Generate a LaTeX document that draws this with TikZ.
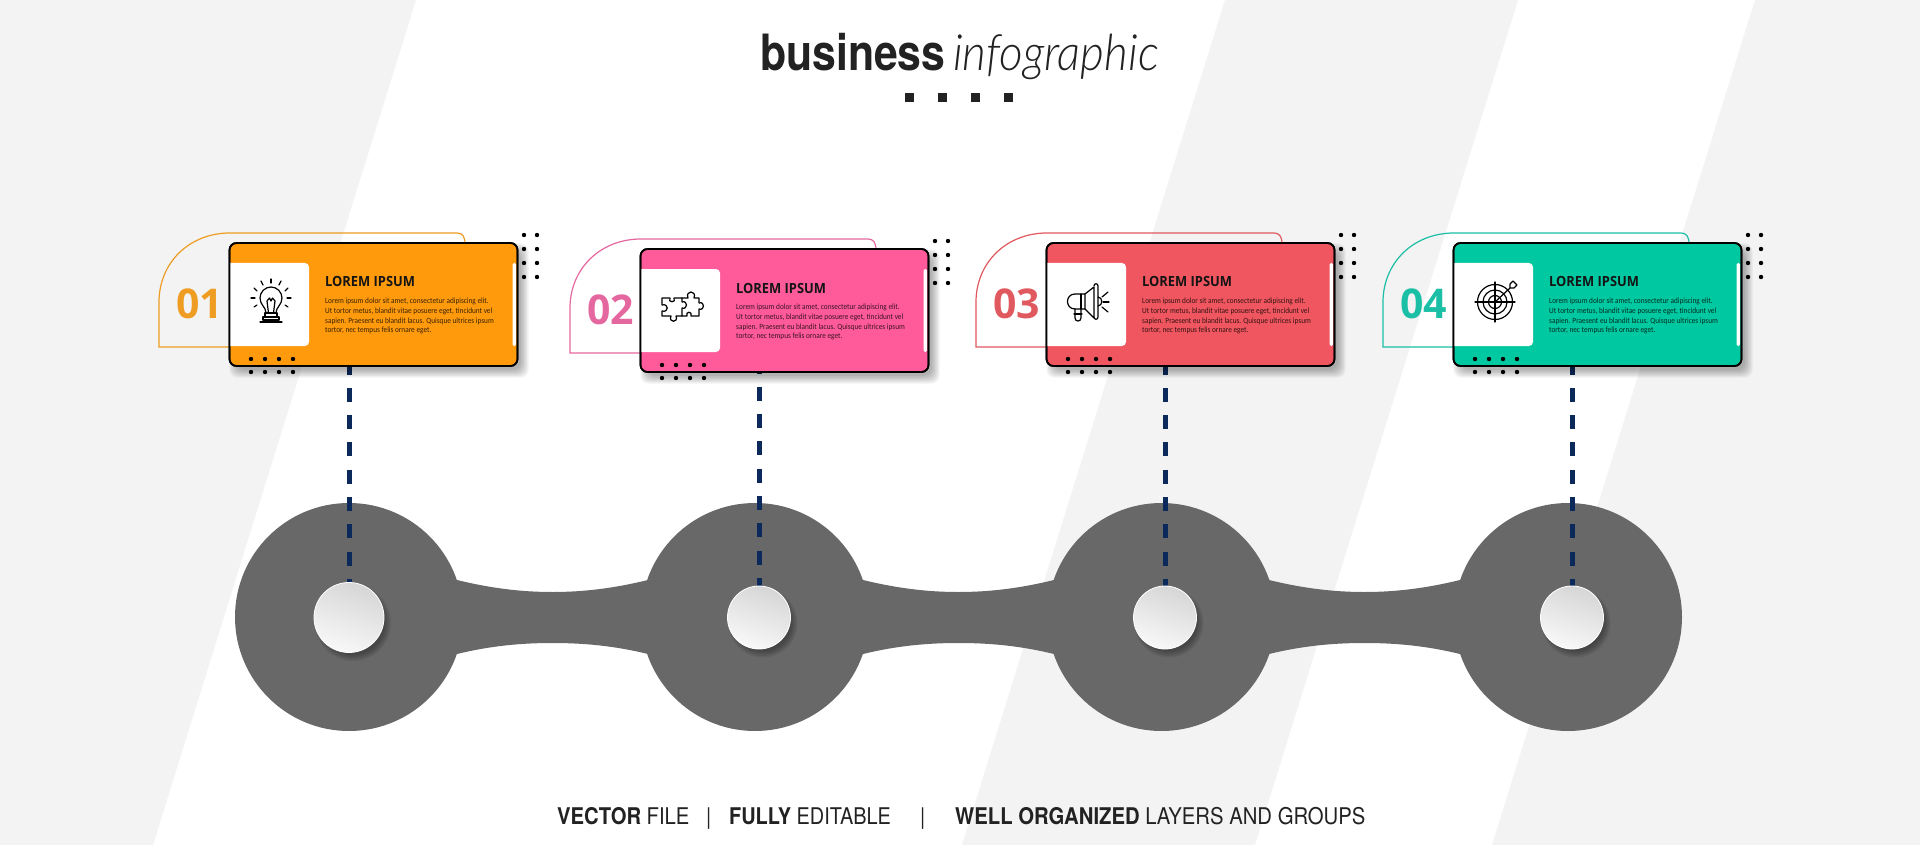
\documentclass[tikz,border=0pt]{standalone}
\usepackage{fontspec}
\setmainfont{Open Sans}
\newfontfamily\heros{TeX Gyre Heros}
\newfontfamily\carl{Carlito}
\newfontfamily\lightit{Lato Light Italic}
\pgfdeclarelayer{back}
\pgfdeclarelayer{mid}
\pgfsetlayers{back,mid,main}
\definecolor{cOrange}{HTML}{FF9A0C}
\definecolor{cPink}{HTML}{FF5A99}
\definecolor{cRed}{HTML}{F0565F}
\definecolor{cGreen}{HTML}{00C8A0}
\definecolor{lOrange}{HTML}{EE9C22}
\definecolor{lPink}{HTML}{E5679F}
\definecolor{lRed}{HTML}{E0595F}
\definecolor{lGreen}{HTML}{1BBFA5}
\definecolor{band}{HTML}{F3F3F3}
\definecolor{disc}{HTML}{686868}
\definecolor{navy}{HTML}{0B2A5B}
\definecolor{ink}{HTML}{222222}
\definecolor{HubTop}{HTML}{D6D6D6}
\definecolor{HubBot}{HTML}{F8F8F8}
\tikzset{
  x=1pt,y=-1pt,
  cardbox/.style={rectangle,rounded corners=7pt,draw=black,line width=1.7pt,minimum width=288pt,minimum height=123pt,anchor=north west,inner sep=0pt,outer sep=0pt},
  diskshape/.style={circle,fill=disc,minimum size=228pt,inner sep=0pt,outer sep=0pt},
  hubshape/.style={circle,draw=white,line width=0.8pt,top color=HubTop,bottom color=HubBot,shading angle=-20,inner sep=0pt,outer sep=0pt},
  connector/.style={draw=navy,line width=5pt,dash pattern=on 14pt off 13.3pt},
  heading/.style={inner sep=0pt,anchor=base west,font=\bfseries\fontsize{14}{14}\selectfont,xscale=.92,transform shape,text=black!92!white},
  bodytext/.style={inner sep=0pt,anchor=north west,align=left,font=\carl\fontsize{8}{9.7}\selectfont,xscale=.91,transform shape,text=black,text opacity=.78},
  numtext/.style={inner sep=0pt,font=\bfseries\fontsize{41}{41}\selectfont},
  iconline/.style={draw=black,line width=1.2pt,line cap=round,line join=round},
  footer/.style={inner sep=0pt,anchor=base west,font=\heros\fontsize{23}{23}\selectfont,transform shape,text=ink},
}

\newcommand{\iconbulb}{%
  \begin{scope}[shift={(0,2)}]
  \draw[iconline] (-5,9) .. controls (-5,3) and (-11,1) .. (-11,-6) .. controls (-11,-12) and (-6,-17) .. (0,-17) .. controls (6,-17) and (11,-12) .. (11,-6) .. controls (11,1) and (5,3) .. (5,9) -- cycle;
  \draw[iconline] (-2.5,9) -- (-4,-3) -- (-1.5,-6) -- (0,-3) -- (1.5,-6) -- (4,-3) -- (2.5,9);
  \draw[iconline] (-6,9) -- (6,9) -- (6,13) -- (-6,13) -- cycle;
  \draw[iconline] (-8,13) -- (8,13) -- (8,16) -- (-8,16) -- cycle;
  \draw[iconline] (-11,18) -- (11,18);
  \foreach \dx/\dy/\ex/\ey in {0/-21/0/-25,-8/-19/-10/-23,8/-19/10/-23,-14/-13/-17/-16,14/-13/17/-16,-16/-6/-20/-6,16/-6/20/-6,-14/1/-17/3,14/1/17/3}
    \draw[iconline] (\dx,\dy) -- (\ex,\ey);
  \end{scope}
}
\newcommand{\iconpuzzle}{%
  \draw[iconline] (-20,-10) -- (-12,-10) .. controls (-15,-5) and (-5,-5) .. (-8,-10) -- (0,-10) -- (0,-6)
    .. controls (6,-8) and (6,2) .. (0,0) -- (0,8) -- (-6,8) .. controls (-3,15) and (-14,15) .. (-11,8) -- (-20,8) -- (-20,3)
    .. controls (-13,5) and (-13,-5) .. (-20,-3) -- cycle;
  \draw[iconline] (0,-10) -- (6,-10) .. controls (3,-18) and (15,-18) .. (12,-10) -- (17,-10) -- (17,-5)
    .. controls (23,-7) and (23,3) .. (17,1) -- (17,8) -- (9,8) .. controls (11,3) and (3,3) .. (5,8) -- (0,8);
}
\newcommand{\iconmega}{%
  \draw[iconline] (-3,-8) -- (-13,-8) .. controls (-23,-8) and (-23,7) .. (-13,7) -- (-3,7) -- cycle;
  \draw[iconline] (-3,-8) -- (6,-15) -- (6,16) -- (-3,7);
  \draw[iconline] (6,-16) .. controls (6,-19) and (10,-19) .. (10,-16) -- (10,15) .. controls (10,18) and (6,18) .. (6,15);
  \draw[iconline] (10,-5) .. controls (15,-5) and (15,4) .. (10,4);
  \draw[iconline] (-13,7) -- (-13,16) .. controls (-13,20) and (-7,20) .. (-7,16) -- (-7,7);
  \draw[iconline] (-14,12) -- (-6,12);
  \draw[iconline] (-7,-8) -- (-7,7);
  \draw[iconline] (14,-5) -- (20,-10);
  \draw[iconline] (15,0) -- (21,0);
  \draw[iconline] (14,5) -- (20,10);
}
\newcommand{\icontarget}{%
  \draw[iconline] (0,0) circle[radius=17.5];
  \draw[iconline] (0,0) circle[radius=12];
  \draw[iconline] (0,0) circle[radius=6.5];
  \draw[iconline] (-20,0) -- (20,0);
  \draw[iconline] (0,-20) -- (0,20);
  \draw[iconline] (0,0) -- (15,-14);
  \fill (0,0) circle[radius=1.5];
  \draw[iconline,fill=white] (15,-14) -- (15,-18) -- (18,-21) -- (20,-19) -- (22,-17) -- (19,-14) -- cycle;
}

% id, x, y, fill, line, number, icon, dash phase
\newcommand{\cardblock}[8]{%
  \begin{scope}[shift={(#2,#3)}]
    \draw[#5,line width=1.2pt] (2,104) -- (-70,104) -- (-70,59) .. controls (-70,20) and (-40,-10) .. (1,-10) -- (228,-10) .. controls (233,-10) and (236,-7) .. (236,1);
    \foreach \e in {0,1.5,3,4.5,6,7.5}
      \fill[black,opacity=.055,rounded corners=8pt] (8-\e,8-\e) rectangle (292+\e,127+\e);
    \node[cardbox,fill=#4] (card#1) at (0.5,0) {};
    \fill[white] (1,20) [rounded corners=4pt] -- (80,20) -- (80,103) [sharp corners] -- (1,103) -- cycle;
    \fill[white,rounded corners=1.5pt] (283.5,20) rectangle (287,103);
    \draw[black,line width=1.7pt,rounded corners=7pt] (0.5,0) rectangle (288.5,123);
    \node[numtext,text=#5] (num#1) at (-29.5,61) {#6};
    \node[heading] (head#1) at (96,44) {LOREM IPSUM};
    \node[bodytext] (body#1) at (96,55) {Lorem ipsum dolor sit amet, consectetur adipiscing elit.\\Ut tortor metus, blandit vitae posuere eget, tincidunt vel\\sapien. Praesent eu blandit lacus. Quisque ultrices ipsum\\tortor, nec tempus felis ornare eget.};
    \begin{scope}[shift={(42,59)}]#7\end{scope}
    \foreach \dy in {-8,6,20,34} \foreach \dx in {295,308}
      \fill[black] (\dx,\dy) circle[radius=2.2];
    \foreach \dx in {22,36,50,64} \foreach \dy in {116,129}
      \fill[black] (\dx,\dy) circle[radius=2.2];
  \end{scope}
  \begin{pgfonlayer}{mid}
    \draw[connector,dash phase=#8pt] (card#1.south -| hub#1) -- (hub#1);
  \end{pgfonlayer}
}
\newcommand{\hubblock}[4]{%
  \foreach \e in {0,1.5,3,4.5,6}
    \fill[black,opacity=.07] (#2+4,618+5) circle[radius=#3+\e-3];
  \node[hubshape,minimum size=#4pt] (hub#1) at (#2,617.5) {};
}

\begin{document}
\begin{tikzpicture}
\useasboundingbox (0,0) rectangle (1920,845);
\begin{pgfonlayer}{back}
  \fill[white] (0,0) rectangle (1920,845);
  \fill[band] (0,0) -- (416,0) -- (153,845) -- (0,845) -- cycle;
  \fill[band] (1225,0) -- (1518,0) -- (1255,845) -- (962,845) -- cycle;
  \fill[band] (1755,0) -- (1920,0) -- (1920,845) -- (1492,845) -- cycle;
  \node[diskshape] (disk1) at (349,617) {};
  \node[diskshape] (disk2) at (755,617) {};
  \node[diskshape] (disk3) at (1161.5,617) {};
  \node[diskshape] (disk4) at (1568,617) {};
  \foreach \a/\b in {457/648,863/1054,1269/1460}
    \fill[disc] (\a-2,580) -- (\a,580) .. controls (\a+33,588) and (\a+63,592) .. ({(\a+\b)/2},592) .. controls (\b-63,592) and (\b-33,588) .. (\b,580) -- (\b+2,580) -- (\b+2,654) -- (\b,654) .. controls (\b-33,646) and (\b-63,643) .. ({(\a+\b)/2},643) .. controls (\a+63,643) and (\a+33,646) .. (\a,654) -- (\a-2,654) -- cycle;
\end{pgfonlayer}

\node[inner sep=0pt,anchor=base west,font=\heros\bfseries\fontsize{50}{50}\selectfont,xscale=.855,transform shape,text=ink] (title1) at (760,71) {business};
\node[inner sep=0pt,anchor=base west,font=\lightit\fontsize{50}{50}\selectfont,xscale=.92,transform shape,text=ink] (title2) at (953,71) {infographic};
\foreach \sx in {905,938,971,1004}
  \fill[ink] (\sx,93) rectangle (\sx+9,102);

\hubblock{1}{349}{35}{70}
\hubblock{2}{759}{31.5}{63}
\hubblock{3}{1165}{31.5}{63}
\hubblock{4}{1572}{31.5}{63}

\cardblock{1}{229}{243}{cOrange}{lOrange}{01}{\iconbulb}{5.5}
\cardblock{2}{640}{249}{cPink}{lPink}{02}{\iconpuzzle}{12.5}
\cardblock{3}{1046}{243}{cRed}{lRed}{03}{\iconmega}{5.5}
\cardblock{4}{1453}{243}{cGreen}{lGreen}{04}{\icontarget}{5.5}

\node[footer,xscale=.88] (foot1) at (557,824) {{\bfseries VECTOR} FILE};
\node[footer,xscale=.86] (bar1) at (706,824) {|};
\node[footer,xscale=.865] (foot2) at (729,824) {{\bfseries FULLY} EDITABLE};
\node[footer,xscale=.86] (bar2) at (920,824) {|};
\node[footer,xscale=.882] (foot3) at (955,824) {{\bfseries WELL ORGANIZED} LAYERS AND GROUPS};
\end{tikzpicture}
\end{document}
